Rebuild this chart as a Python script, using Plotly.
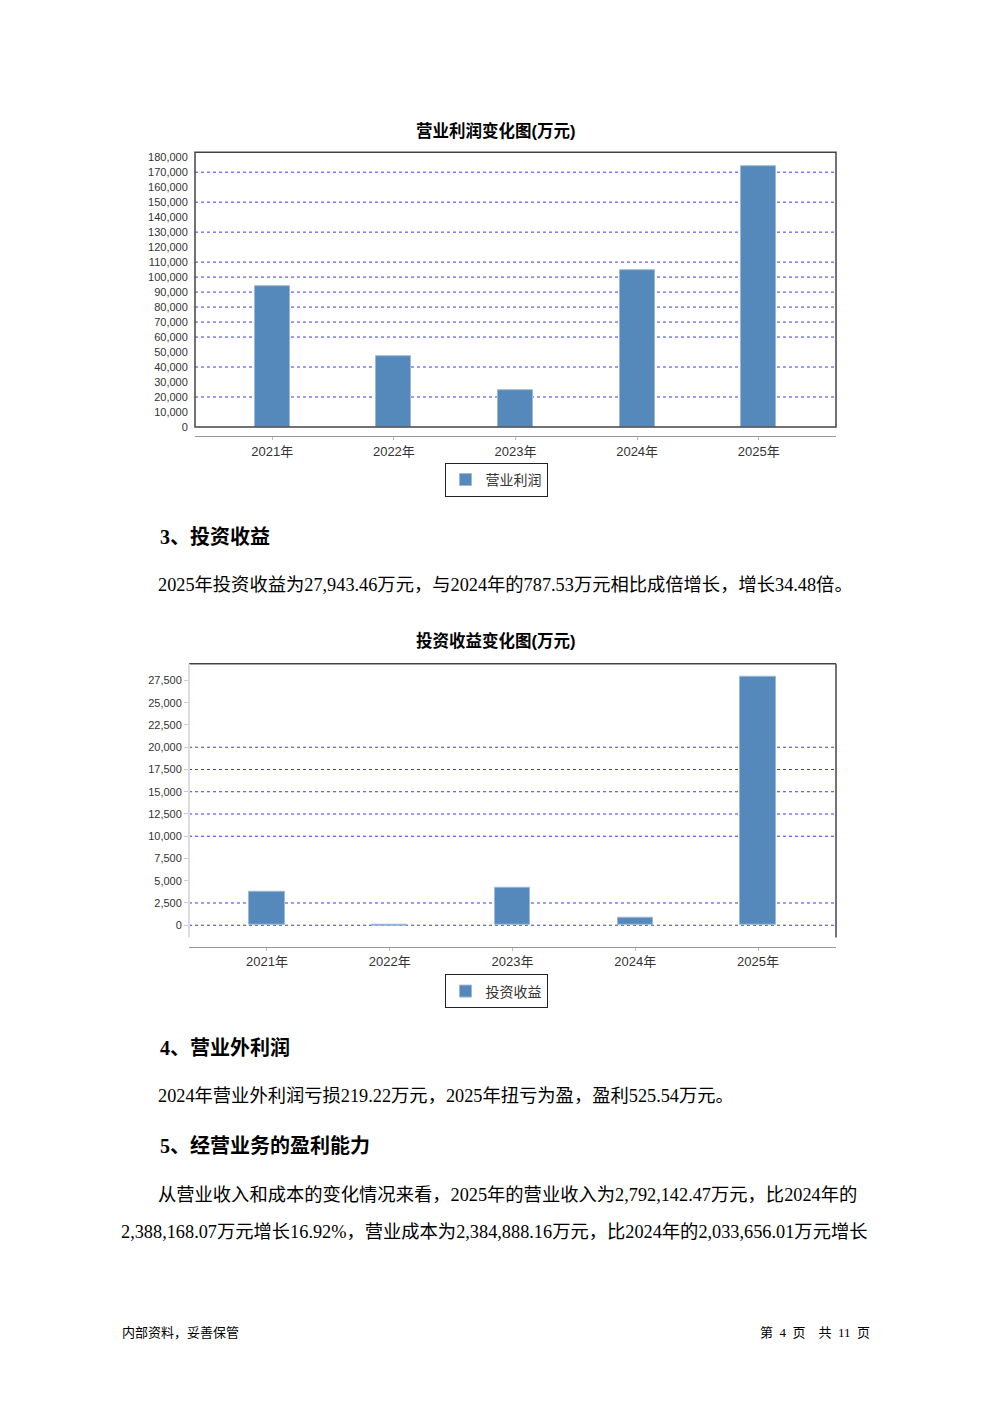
import plotly.graph_objects as go

OFF = 8  # default page body margin
W, H = 992 - 2 * OFF, 1380
VK = 0.9958  # small vertical render correction

years = ["2021年", "2022年", "2023年", "2024年", "2025年"]
op_profit = [94000, 47300, 24700, 104700, 174000]          # 营业利润 (万元)
inv_income = [3800, -110, 4250, 787.53, 27943.46]          # 投资收益 (万元)

op_ticks = list(range(0, 180001, 10000))
op_grid = [20000, 40000, 60000, 70000, 80000, 90000, 100000, 110000, 130000, 150000, 170000]
inv_ticks = list(range(0, 27501, 2500))
inv_grid = [0, 2500, 10000, 12500, 15000, 17500, 20000]

BAR = "#5588BB"
GRID = "#3a3aee"
SERIF = "Liberation Serif, Noto Sans CJK SC"
SANS = "Liberation Sans, Noto Sans CJK SC"


def px(x):
    return (x - OFF) / W


def py(y):
    return 1 - ((y - 0.7) / VK - OFF) / H


fig = go.Figure()

fig.add_trace(go.Bar(x=years, y=op_profit, name="营业利润", marker=dict(color=BAR, line=dict(color="#9db9d8", width=1)),
                     width=0.288, xaxis="x", yaxis="y", legend="legend", showlegend=True))
fig.add_trace(go.Bar(x=years, y=inv_income, name="投资收益", marker=dict(color=BAR, line=dict(color="#9db9d8", width=1)),
                     width=0.288, xaxis="x2", yaxis="y2", legend="legend2", showlegend=True))

cat_range = [-0.635, 4.635]
tickfont_y = dict(family=SANS, size=11, color="#333")
tickfont_x = dict(family=SANS, size=13, color="#333")

layout = dict(
    width=W, height=H,
    margin=dict(l=0, r=0, t=0, b=0),
    paper_bgcolor="white", plot_bgcolor="white",
    bargap=0,
    # chart 1
    xaxis=dict(domain=[px(195), px(836)], range=cat_range, anchor="free", position=py(436),
               showline=True, linecolor="#999", linewidth=1, ticks="outside", ticklen=3, tickcolor="#bbb",
               tickfont=tickfont_x, showgrid=False, fixedrange=True),
    yaxis=dict(domain=[py(427), py(152)], range=[0, 183333], anchor="x", tickvals=op_ticks,
               tickformat=",d", ticks="outside", ticklen=4, tickcolor="rgba(0,0,0,0)",
               tickfont=tickfont_y, showgrid=False, zeroline=False, showline=False),
    # chart 2
    xaxis2=dict(domain=[px(189), px(836)], range=cat_range, anchor="free", position=py(947),
                showline=True, linecolor="#999", linewidth=1, ticks="outside", ticklen=3, tickcolor="#bbb",
                tickfont=tickfont_x, showgrid=False),
    yaxis2=dict(domain=[py(938), py(664)], range=[-1380, 29380], anchor="x2", tickvals=inv_ticks,
                tickformat=",d", ticks="outside", ticklen=4, tickcolor="#ccc",
                tickfont=tickfont_y, showgrid=False, zeroline=False, showline=False),
    legend=dict(x=px(496), xanchor="center", y=py(463), yanchor="top", orientation="h",
                bordercolor="#222", borderwidth=1, bgcolor="white", itemwidth=30,
                font=dict(family=SANS, size=14, color="#333"), tracegroupgap=0),
    legend2=dict(x=px(496), xanchor="center", y=py(975), yanchor="top", orientation="h",
                 bordercolor="#222", borderwidth=1, bgcolor="white", itemwidth=30,
                 font=dict(family=SANS, size=14, color="#333"), tracegroupgap=0),
)
fig.update_layout(**layout)

# dotted grid lines (value lists above)
for v in op_grid:
    fig.add_shape(type="line", xref="x domain", yref="y", x0=0, x1=1, y0=v, y1=v,
                  line=dict(color=GRID, width=1, dash="dot"), layer="below")
for v in inv_grid:
    fig.add_shape(type="line", xref="x2 domain", yref="y2", x0=0, x1=1, y0=v, y1=v,
                  line=dict(color=GRID, width=1, dash="dot"), layer="below")

# plot frames
fig.add_shape(type="rect", xref="x domain", yref="y domain", x0=0, x1=1, y0=0, y1=1,
              line=dict(color="#444", width=1.5), layer="above")
fig.add_shape(type="line", xref="x2 domain", yref="y2 domain", x0=0, x1=1, y0=1, y1=1,
              line=dict(color="#444", width=1.5), layer="above")
fig.add_shape(type="line", xref="x2 domain", yref="y2 domain", x0=1, x1=1, y0=0, y1=1,
              line=dict(color="#444", width=1.5), layer="above")
fig.add_shape(type="line", xref="x2 domain", yref="y2 domain", x0=0, x1=0, y0=0, y1=1,
              line=dict(color="#ddd", width=2), layer="above")

ann = []


def text(x, y, s, size, bold=False, family=SERIF, xanchor="left", color="black"):
    ann.append(dict(x=px(x), y=py(y), xref="paper", yref="paper", text=(f"<b>{s}</b>" if bold else s),
                    showarrow=False, xanchor=xanchor, yanchor="middle",
                    font=dict(family=family, size=size, color=color)))


text(496, 130, "营业利润变化图(万元)", 16.5, True, SANS, "center")
text(496, 641, "投资收益变化图(万元)", 16.5, True, SANS, "center")
text(158, 537, "3、投资收益", 20, True)
text(156, 585, "2025年投资收益为27,943.46万元，与2024年的787.53万元相比成倍增长，增长34.48倍。", 18.3)
text(158, 1048, "4、营业外利润", 20, True)
text(156, 1097, "2024年营业外利润亏损219.22万元，2025年扭亏为盈，盈利525.54万元。", 18.3)
text(158, 1147, "5、经营业务的盈利能力", 20, True)
text(156, 1196, "从营业收入和成本的变化情况来看，2025年的营业收入为2,792,142.47万元，比2024年的", 18.3)
text(119, 1233, "2,388,168.07万元增长16.92%，营业成本为2,384,888.16万元，比2024年的2,033,656.01万元增长", 18.3)
text(120, 1333, "内部资料，妥善保管", 13, False, SERIF)
text(872, 1333, "第  4  页    共  11  页", 13, False, SERIF, "right")
fig.update_layout(annotations=ann)

fig.write_html("out.html", config={"displayModeBar": False})
